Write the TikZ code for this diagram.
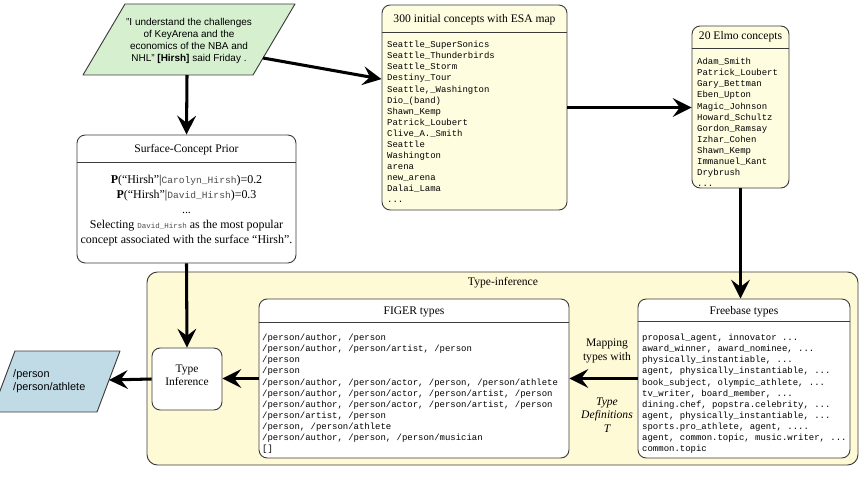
\documentclass[tikz,border=0pt]{standalone}
\usepackage{fontspec}
\setmainfont{Liberation Serif}
\setsansfont{Liberation Sans}
\setmonofont{Liberation Mono}
\usetikzlibrary{arrows.meta,fit}
\definecolor{quotegreen}{RGB}{214,240,207}
\definecolor{outblue}{RGB}{193,219,230}
\definecolor{listyellow}{RGB}{255,253,224}
\definecolor{areayellow}{RGB}{255,250,214}
\definecolor{edgegray}{RGB}{60,60,60}
\newcommand{\cname}[2]{{\ttfamily\fontsize{#1}{12.8}\selectfont\color{black!70}#2}}

\begin{document}
\begin{tikzpicture}[x=0.03cm,y=-0.03cm,line join=round,
  box/.style={draw=edgegray,line width=0.8pt,rounded corners=7pt,inner sep=0pt},
  flow/.style={line width=2.6pt,-{Stealth[length=16pt,width=16pt,inset=6pt]}},
  head/.style={inner sep=0pt,font=\fontsize{9.9}{11.5}\selectfont},
  listing/.style={anchor=north west,align=left,inner sep=0pt,font=\ttfamily\fontsize{7.65}{9.45}\selectfont}]
  \useasboundingbox (0,0) rectangle (868,478);
  % input sentence
  \draw[draw=edgegray,fill=quotegreen,line width=0.8pt] (125,4) -- (295,4) -- (253,75) -- (83,75) -- cycle;
  \node[align=center,font=\sffamily\fontsize{8.5}{10.2}\selectfont] (sentence) at (189,41)
    {"I understand the challenges\\of KeyArena and the\\economics of the NBA and\\NHL" \textbf{[Hirsh]} said Friday .};
  \coordinate (sentence-s) at (187,75);
  \coordinate (sentence-e) at (263,58);
  % ESA concepts
  \node[box,fill=listyellow,fit={(382,5) (567,210)}] (esa) {};
  \draw[edgegray,line width=0.8pt] (esa.west |- 0,32) -- (esa.east |- 0,32);
  \node[head] (esa-head) at (474.5,20) {300 initial concepts with ESA map};
  \node[listing] (esa-list) at (387,41) {Seattle\_SuperSonics\\Seattle\_Thunderbirds\\Seattle\_Storm\\Destiny\_Tour\\Seattle,\_Washington\\Dio\_(band)\\Shawn\_Kemp\\Patrick\_Loubert\\Clive\_A.\_Smith\\Seattle\\Washington\\arena\\new\_arena\\Dalai\_Lama\\...};
  % Elmo concepts
  \node[box,fill=listyellow,fit={(692,26) (789,188)}] (elmo) {};
  \draw[edgegray,line width=0.8pt] (elmo.west |- 0,48) -- (elmo.east |- 0,48);
  \node[head] (elmo-head) at (740.5,37) {20 Elmo concepts};
  \node[listing] (elmo-list) at (697,58) {Adam\_Smith\\Patrick\_Loubert\\Gary\_Bettman\\Eben\_Upton\\Magic\_Johnson\\Howard\_Schultz\\Gordon\_Ramsay\\Izhar\_Cohen\\Shawn\_Kemp\\Immanuel\_Kant\\Drybrush\\...};
  % surface-concept prior
  \node[box,fill=white,fit={(77,135) (296,263)}] (prior) {};
  \draw[edgegray,line width=0.8pt] (prior.west |- 0,162) -- (prior.east |- 0,162);
  \node[head] (prior-head) at (186.5,150) {Surface-Concept Prior};
  \node[align=center,inner sep=0pt,font=\fontsize{10.2}{12.8}\selectfont] (prior-text) at (186.5,211)
    {\textbf{P}(“Hirsh”|\cname{8.2}{Carolyn\_Hirsh})=0.2\\
     \textbf{P}(“Hirsh”|\cname{8.2}{David\_Hirsh})=0.3\\
     ...\\
     Selecting \cname{6.4}{David\_Hirsh} as the most popular\\
     concept associated with the surface “Hirsh”.};
  % type inference area
  \node[box,fill=areayellow,rounded corners=9pt,fit={(147,272) (858,465)}] (typeinf) {};
  \node[head] (typeinf-head) at (503,283) {Type-inference};
  \node[box,fill=white,fit={(152,348) (222,410)},align=center,font=\fontsize{9.8}{11.5}\selectfont] (infer) {Type\\Inference};
  % FIGER types
  \node[box,fill=white,fit={(259,299) (569,458)}] (figer) {};
  \draw[edgegray,line width=0.8pt] (figer.west |- 0,322) -- (figer.east |- 0,322);
  \node[head] (figer-head) at (414,312) {FIGER types};
  \node[listing] (figer-list) at (262,334) {/person/author, /person\\/person/author, /person/artist, /person\\/person\\/person\\/person/author, /person/actor, /person, /person/athlete\\/person/author, /person/actor, /person/artist, /person\\/person/author, /person/actor, /person/artist, /person\\/person/artist, /person\\/person, /person/athlete\\/person/author, /person, /person/musician\\{[]}};
  % Freebase types
  \node[box,fill=white,fit={(638,299) (850,458)}] (freebase) {};
  \draw[edgegray,line width=0.8pt] (freebase.west |- 0,321) -- (freebase.east |- 0,321);
  \node[head] (freebase-head) at (744,312) {Freebase types};
  \node[listing] (freebase-list) at (642,334) {proposal\_agent, innovator ...\\award\_winner, award\_nominee, ...\\physically\_instantiable, ...\\agent, physically\_instantiable, ...\\book\_subject, olympic\_athlete, ...\\tv\_writer, board\_member, ...\\dining.chef, popstra.celebrity, ...\\agent, physically\_instantiable, ...\\sports.pro\_athlete, agent, ....\\agent, common.topic, music.writer, ...\\common.topic};
  \node[head,align=center] (maplbl) at (607,351) {Mapping\\types with};
  \node[head,align=center,font=\fontsize{9.9}{11.5}\selectfont\itshape] (typedef) at (607,415) {Type\\Definitions\\T};
  % output types
  \draw[draw=edgegray,fill=outblue,line width=0.8pt] (15,351) -- (120,351) -- (97,412) -- (-8,412) -- cycle;
  \node[anchor=west,align=left,inner sep=0pt,font=\sffamily\fontsize{9.3}{11}\selectfont] (result) at (13,381) {/person\\/person/athlete};
  \coordinate (result-e) at (109,380);
  % connectors
  \draw[flow] (sentence-s) -- (prior.north);
  \draw[flow] (sentence-e) -- (esa.163);
  \draw[flow] (esa.east) -- (esa.east -| elmo.west);
  \draw[flow] (elmo.south) -- (elmo.south |- freebase.north);
  \draw[flow] (prior.south) -- (infer.north);
  \draw[flow] (freebase.west) -- (figer.east);
  \draw[flow] (figer.west) -- (infer.east |- figer.west);
  \draw[flow] (infer.west) -- (result-e);
\end{tikzpicture}
\end{document}
